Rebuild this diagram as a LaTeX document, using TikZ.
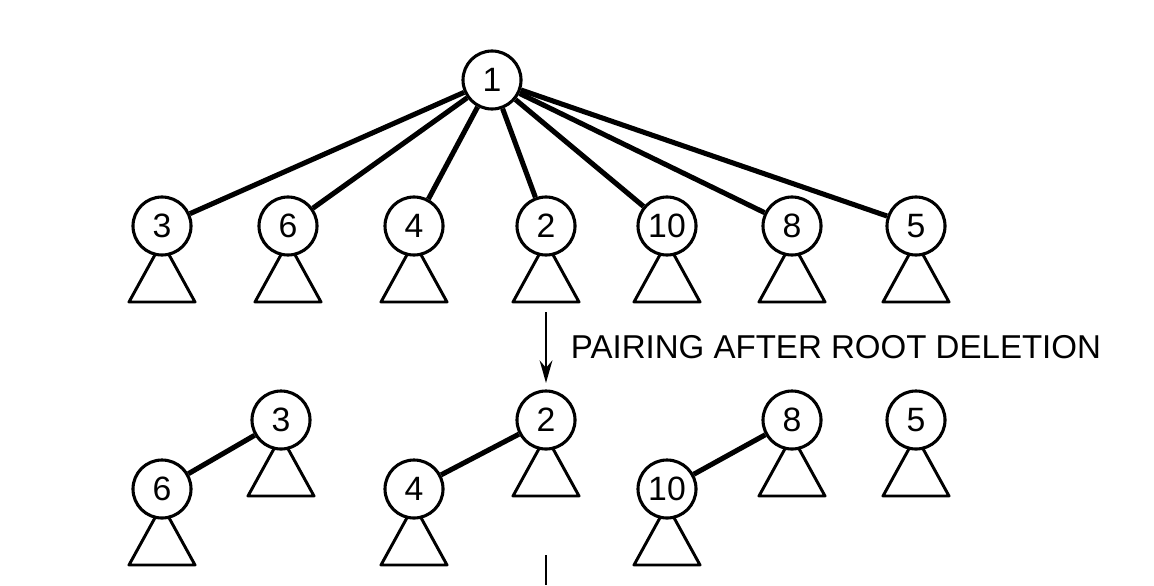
\documentclass[tikz,border=0pt]{standalone}
\usepackage{fontspec}
\setmainfont{Liberation Sans}
\usetikzlibrary{backgrounds,arrows.meta}

% subtree triangle hanging below a key node
\newcommand{\subtree}[1]{%
  \begin{pgfonlayer}{background}
  \path[draw,tri] (#1.center) ++(0,16) -- ++(-33,60) -- ++(66,0) -- cycle;
  \end{pgfonlayer}}

\begin{document}
\begin{tikzpicture}[x=0.025cm,y=-0.025cm,
  key/.style={draw, circle, fill=white, line width=2.2pt, minimum size=1.45cm, inner sep=0pt, font=\fontsize{24}{24}\selectfont},
  link/.style={line width=3.6pt},
  tri/.style={line width=2.1pt, line join=round}]
\useasboundingbox (0,0) rectangle (1154,585);

% heap before deleting the root
\node[key] (r) at (492,80) {1};
\node[key] (c3) at (162,226) {3};
\node[key] (c6) at (288,226) {6};
\node[key] (c4) at (414,226) {4};
\node[key] (c2) at (546,226) {2};
\node[key] (c10) at (667,226) {10};
\node[key] (c8) at (792,226) {8};
\node[key] (c5) at (916,226) {5};

\path[draw,link] (r) -- (c3);
\path[draw,link] (r) -- (c6);
\path[draw,link] (r) -- (c4);
\path[draw,link] (r) -- (c2);
\path[draw,link] (r) -- (c10);
\path[draw,link] (r) -- (c8);
\path[draw,link] (r) -- (c5);

\subtree{c3}
\subtree{c6}
\subtree{c4}
\subtree{c2}
\subtree{c10}
\subtree{c8}
\subtree{c5}

% first pass
\coordinate (a1) at (546,312);
\coordinate (a2) at (546,383);
\path[draw,line width=2pt,-{Stealth[length=16pt,width=9pt]}] (a1) -- (a2);
\node[anchor=west, font=\fontsize{23.5}{23.5}\selectfont] (lbl) at (566,347) {PAIRING AFTER ROOT DELETION};

% pairs after the first pass
\node[key] (p3) at (281,420) {3};
\node[key] (p6) at (162,489) {6};
\path[draw,link] (p3) -- (p6);
\node[key] (p2) at (546,420) {2};
\node[key] (p4) at (414,489) {4};
\path[draw,link] (p2) -- (p4);
\node[key] (p8) at (792,420) {8};
\node[key] (p10) at (667,489) {10};
\path[draw,link] (p8) -- (p10);
\node[key] (p5) at (916,420) {5};

\subtree{p3}
\subtree{p6}
\subtree{p2}
\subtree{p4}
\subtree{p8}
\subtree{p10}
\subtree{p5}

% next arrow, cut off at the bottom
\coordinate (b1) at (546,555);
\coordinate (b2) at (546,585);
\path[draw,line width=2pt] (b1) -- (b2);
\end{tikzpicture}
\end{document}
